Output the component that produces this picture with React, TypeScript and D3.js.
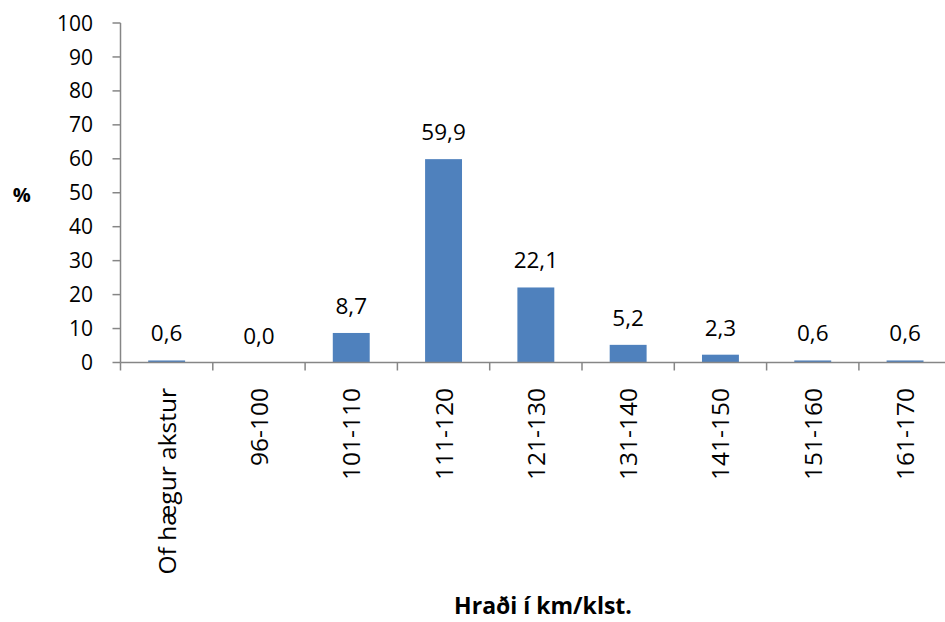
import React from "react";
import * as d3 from "d3";

const categories = ["Of hægur akstur", "96-100", "101-110", "111-120", "121-130", "131-140", "141-150", "151-160", "161-170"];
const values = [0.6, 0.0, 8.7, 59.9, 22.1, 5.2, 2.3, 0.6, 0.6];
const yTicks = [0, 10, 20, 30, 40, 50, 60, 70, 80, 90, 100];

const W = 945;
const H = 622;
const left = 120.5;
const bandW = 92.3;
const top = 23;
const bottom = 362.5;
const font = "'Open Sans', sans-serif";

export default function App() {
  const x = d3
    .scaleBand<string>()
    .domain(categories)
    .range([left, left + bandW * categories.length])
    .paddingInner(0)
    .paddingOuter(0);
  const y = d3.scaleLinear().domain([0, 100]).range([bottom, top]);
  const bw = x.bandwidth() * 0.4;
  const fmt = (v: number) => v.toFixed(1).replace(".", ",");
  const axisColor = "#868686";

  return (
    <svg width={W} height={H} style={{ position: "absolute", left: 0, top: 0, background: "#fff" }}>
      {categories.map((c, i) => {
        const cx = (x(c) as number) + x.bandwidth() / 2;
        const v = values[i];
        return (
          <g key={c}>
            {v > 0 && (
              <rect x={cx - bw / 2} y={y(v)} width={bw} height={bottom - y(v)} fill="#4F81BD" />
            )}
            <text
              x={cx}
              y={y(v) - 19}
              textAnchor="middle"
              fontFamily={font}
              fontSize={22.5}
              fill="#000"
            >
              {fmt(v)}
            </text>
          </g>
        );
      })}
      <line x1={left} x2={left} y1={top} y2={bottom} stroke={axisColor} strokeWidth={1.5} />
      {yTicks.map((t) => (
        <g key={t}>
          <line x1={left - 8} x2={left} y1={y(t)} y2={y(t)} stroke={axisColor} strokeWidth={1.5} />
          <text
            x={93}
            y={y(t)}
            dy="0.36em"
            textAnchor="end"
            fontFamily={font}
            fontSize={21}
            fill="#000"
          >
            {t}
          </text>
        </g>
      ))}
      <line x1={left} x2={left + bandW * categories.length} y1={bottom} y2={bottom} stroke={axisColor} strokeWidth={1.5} />
      {categories.map((c, i) => (
        <line
          key={"t" + i}
          x1={x(c) as number}
          x2={x(c) as number}
          y1={bottom}
          y2={bottom + 8}
          stroke={axisColor}
          strokeWidth={1.5}
        />
      ))}
      {categories.map((c) => {
        const cx = (x(c) as number) + x.bandwidth() / 2;
        return (
          <text
            key={"l" + c}
            transform={`translate(${cx + 9},${388}) rotate(-90)`}
            textAnchor="end"
            fontFamily={font}
            fontSize={24.5}
            fill="#000"
          >
            {c}
          </text>
        );
      })}
      <text x={21.7} y={201.5} textAnchor="middle" fontFamily={font} fontSize={20} fontWeight="bold" fill="#000">
        %
      </text>
      <text x={543} y={614} textAnchor="middle" fontFamily={font} fontSize={23} fontWeight="bold" fill="#000">
        Hraði í km/klst.
      </text>
    </svg>
  );
}
